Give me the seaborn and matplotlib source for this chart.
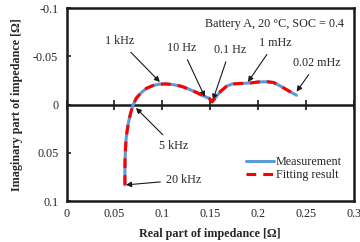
import numpy as np
import pandas as pd
import matplotlib
matplotlib.use("Agg")
import matplotlib.pyplot as plt
import seaborn as sns
from matplotlib.lines import Line2D

# ---- data ----
re_meas = [0.0609, 0.0609, 0.0610, 0.0615, 0.0622, 0.0635, 0.0648, 0.0668, 0.0695,
           0.0730, 0.0780, 0.0835, 0.0900, 0.0970, 0.1040, 0.1120, 0.1200, 0.1280,
           0.1360, 0.1430, 0.1490, 0.1520, 0.1560, 0.1610, 0.1670, 0.1730, 0.1820,
           0.1920, 0.2000, 0.2090, 0.2160, 0.2220, 0.2290, 0.2350, 0.2400]
im_meas = [0.0832, 0.0700, 0.0590, 0.0450, 0.0350, 0.0250, 0.0176, 0.0090, 0.0000,
           -0.0070, -0.0125, -0.0170, -0.0198, -0.0213, -0.0215, -0.0207, -0.0190, -0.0160,
           -0.0125, -0.0090, -0.0065, -0.0030, -0.0080, -0.0140, -0.0190, -0.0215, -0.0220,
           -0.0225, -0.0235, -0.0238, -0.0230, -0.0200, -0.0160, -0.0125, -0.0098]
re_fit = list(re_meas)
im_fit = list(im_meas)

x_ticks = [0, 0.05, 0.1, 0.15, 0.2, 0.25, 0.3]
x_ticklabels = ["0", "0.05", "0.1", "0.15", "0.2", "0.25", "0.3"]
y_ticks = [-0.1, -0.05, 0, 0.05, 0.1]
y_ticklabels = ["-0.1", "-0.05", "0", "0.05", "0.1"]

ann_labels = ["1 kHz", "10 Hz", "0.1 Hz", "1 mHz", "0.02 mHz", "5 kHz", "20 kHz"]
ann_point = [(0.0974, -0.0235), (0.1444, -0.0080), (0.1528, -0.0050), (0.1893, -0.0235),
             (0.2402, -0.0135), (0.0724, 0.0034), (0.0619, 0.0832)]
ann_text = [(0.0556, -0.0660), (0.1204, -0.0588), (0.1705, -0.0567), (0.2175, -0.0640),
            (0.2614, -0.0432), (0.1122, 0.0429), (0.1226, 0.0780)]

title_text = "Battery A, 20 \u00b0C, SOC = 0.4"

# ---- style ----
sns.set_theme(style="white")
plt.rcParams["font.family"] = ["Liberation Serif", "DejaVu Serif"]
plt.rcParams["mathtext.fontset"] = "stix"
FS = 8.7
DASH = (0, (3.2, 2.3))

fig = plt.figure(figsize=(3.6, 2.42), dpi=100)
ax = fig.add_axes([0.185, 0.169, 0.798, 0.797])

ax.axhline(0, color="k", lw=1.8, zorder=1)

df_m = pd.DataFrame({"re": re_meas, "im": im_meas})
df_f = pd.DataFrame({"re": re_fit, "im": im_fit})
sns.lineplot(data=df_m, x="re", y="im", sort=False, ax=ax, color="#5B9BD5", lw=2.2,
             estimator=None, zorder=3)
sns.lineplot(data=df_f, x="re", y="im", sort=False, ax=ax, color="#FF0000", lw=2.2,
             estimator=None, linestyle=DASH, zorder=4)

ax.set_xlim(0, 0.3)
ax.set_ylim(0.1, -0.1)
ax.set_xticks(x_ticks)
ax.set_xticklabels(x_ticklabels, fontsize=FS)
ax.set_yticks(y_ticks)
ax.set_yticklabels(y_ticklabels, fontsize=FS)
ax.tick_params(axis="x", length=0, pad=5)
ax.tick_params(axis="y", direction="in", length=3, width=1.2, left=True, pad=6, color="k")
ax.set_xlabel("Real part of impedance [\u03a9]", fontsize=FS, fontweight="bold", labelpad=6)
ax.set_ylabel("Imaginary part of impedance [\u03a9]", fontsize=FS, fontweight="bold", labelpad=7)
for s in ax.spines.values():
    s.set_visible(True)
    s.set_color("k")
    s.set_linewidth(1.8)

# crossing ticks on the y = 0 line
sec = ax.secondary_xaxis(0.5)
sec.set_xticks(x_ticks)
sec.tick_params(axis="x", direction="inout", length=7, width=1.2, labelbottom=False,
                labeltop=False, color="k")
sec.spines["bottom"].set_linewidth(1.8)
sec.spines["top"].set_visible(False)

for lab, p, t in zip(ann_labels, ann_point, ann_text):
    ax.annotate(lab, xy=p, xytext=t, fontsize=FS, ha="center", va="center",
                arrowprops=dict(arrowstyle="-|>", color="k", lw=0.8, mutation_scale=8,
                                shrinkA=2, shrinkB=0))

ax.text(0.965, 0.92, title_text, transform=ax.transAxes, fontsize=FS, ha="right", va="center")

handles = [Line2D([], [], color="#5B9BD5", lw=2.2),
           Line2D([], [], color="#FF0000", lw=2.2, linestyle=DASH)]
ax.legend(handles, ["Measurement", "Fitting result"], loc="lower left",
          bbox_to_anchor=(0.595, 0.06), frameon=False, fontsize=FS, handlelength=2.3,
          handletextpad=0.15, labelspacing=0.1, borderpad=0.2)

fig.savefig("out.png", dpi=100)
